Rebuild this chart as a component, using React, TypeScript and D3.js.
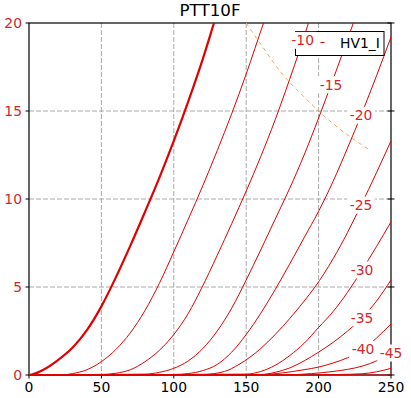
import React from "react";
import * as d3 from "d3";

// anode current (mA) vs anode voltage (V), one array per grid voltage
const ia_0 = [[0, 0], [3, 0.05], [10, 0.3], [20, 0.85], [30, 1.55], [40, 2.55], [50, 3.9], [60, 5.55], [70, 7.35], [80, 9.25], [90, 11.2], [100, 13.3], [110, 15.55], [120, 17.95], [127, 19.8], [130, 20.6]];
const ia_m5 = [[0, 0], [22, 0], [30, 0.08], [40, 0.3], [50, 0.76], [60, 1.45], [70, 2.4], [80, 3.65], [90, 5.2], [100, 7.0], [110, 8.85], [120, 10.75], [130, 12.75], [140, 14.85], [150, 17.1], [162, 20], [165, 20.7]];
const ia_m10 = [[0, 0], [50, 0.03], [60, 0.1], [70, 0.3], [80, 0.75], [90, 1.4], [100, 2.3], [110, 3.5], [119, 4.9], [130, 6.8], [140, 8.6], [150, 10.45], [160, 12.4], [170, 14.5], [180, 16.8], [193, 20], [196, 20.8]];
const ia_m15 = [[0, 0], [80, 0.05], [90, 0.15], [100, 0.38], [110, 0.8], [120, 1.5], [130, 2.5], [140, 3.8], [150, 5.4], [160, 7.1], [170, 8.85], [180, 10.6], [190, 12.5], [200, 14.6], [210, 16.8], [224, 20], [227, 20.7]];
const ia_m20 = [[0, 0], [100, 0.03], [110, 0.08], [120, 0.25], [130, 0.6], [140, 1.3], [150, 2.3], [160, 3.5], [170, 4.85], [180, 6.3], [190, 7.8], [200, 9.3], [210, 11.0], [220, 12.9], [230, 14.9], [240, 17.0], [250, 19.2]];
const ia_m25 = [[0, 0], [120, 0.03], [135, 0.2], [145, 0.6], [160, 1.5], [170, 2.3], [180, 3.2], [190, 4.2], [197.5, 5.0], [210, 6.6], [220, 8.1], [229, 9.6], [240, 11.5], [250, 13.3]];
const ia_m30 = [[0, 0], [150, 0.05], [160, 0.2], [170, 0.55], [180, 1.1], [190, 1.8], [200, 2.7], [210, 3.6], [220, 4.7], [229.5, 5.9], [240, 7.3], [250, 8.7]];
const ia_m35 = [[0, 0], [160, 0.03], [170, 0.15], [180, 0.4], [190, 0.8], [200, 1.3], [210, 1.85], [220, 2.5], [230, 3.25], [240, 4.2], [250, 5.4]];
const ia_m40 = [[0, 0], [160, 0.02], [175, 0.12], [190, 0.3], [200, 0.45], [210, 0.68], [220, 0.98], [230, 1.4], [240, 2.1], [250, 2.9]];
const ia_m45 = [[0, 0], [175, 0], [195, 0.08], [210, 0.2], [220, 0.32], [230, 0.5], [240, 0.8], [250, 1.25]];
const ia_m50 = [[0, 0], [195, 0], [215, 0.03], [230, 0.07], [240, 0.18], [250, 0.38]];
const ia_m55 = [[0, 0], [250, 0]];

const curves = [ia_0, ia_m5, ia_m10, ia_m15, ia_m20, ia_m25, ia_m30, ia_m35, ia_m40, ia_m45, ia_m50, ia_m55];
const gridVolts = ["0", "-5", "-10", "-15", "-20", "-25", "-30", "-35", "-40", "-45", "-50", "-55"];
// x position (V) of the inline label, null = no label shown
const labelAt = [null, null, 189, 208.6, 229.3, 229.3, 230, 230, 230.7, 250, null, null];

// max anode dissipation limit
const pmax = [[150, 20], [160, 18.8], [175, 17.1], [190, 15.8], [200, 15.0], [215, 13.95], [235, 12.8]];

const xTicks = [0, 50, 100, 150, 200, 250];
const yTicks = [0, 5, 10, 15, 20];

const W = 411, H = 398;
const L = 29, R = 391, T = 23, B = 375;
const FONT = "DejaVu Sans, sans-serif";
const RED = "#e00000";
const TXT_RED = "#d62728";

function interp(pts: number[][], xv: number) {
  for (let i = 1; i < pts.length; i++) {
    if (pts[i][0] >= xv) {
      const [x0, y0] = pts[i - 1], [x1, y1] = pts[i];
      return y0 + ((y1 - y0) * (xv - x0)) / (x1 - x0 || 1);
    }
  }
  return pts[pts.length - 1][1];
}

export default function App() {
  const x = d3.scaleLinear().domain([0, 250]).range([L, R]);
  const y = d3.scaleLinear().domain([0, 20]).range([B, T]);
  const line = d3.line<number[]>().x(d => x(d[0])).y(d => y(d[1])).curve(d3.curveMonotoneX);

  return (
    <svg width={W} height={H} style={{ position: "absolute", left: 0, top: 0, background: "#fff" }} fontFamily={FONT}>
      <defs>
        <clipPath id="plot">
          <rect x={L} y={T} width={R - L} height={B - T + 1} />
        </clipPath>
      </defs>
      <rect x={0} y={0} width={W} height={H} fill="#fff" />

      {/* grid */}
      {xTicks.filter(t => t > 0 && t < 250).map(t => (
        <line key={"gx" + t} x1={x(t)} x2={x(t)} y1={T} y2={B} stroke="#a0a0a0" strokeWidth={0.9} strokeDasharray="5,2" />
      ))}
      {yTicks.filter(t => t > 0 && t < 20).map(t => (
        <line key={"gy" + t} x1={L} x2={R} y1={y(t)} y2={y(t)} stroke="#a0a0a0" strokeWidth={0.9} strokeDasharray="5,2" />
      ))}

      {/* spines */}
      <rect x={L} y={T} width={R - L} height={B - T} fill="none" stroke="#000" strokeWidth={1.2} />

      {/* ticks */}
      {yTicks.map(t => (
        <g key={"ty" + t}>
          <line x1={L - 3.5} x2={L} y1={y(t)} y2={y(t)} stroke="#000" />
          <line x1={R - 3.5} x2={R + 3.5} y1={y(t)} y2={y(t)} stroke="#000" />
          <text x={L - 7} y={y(t)} textAnchor="end" dominantBaseline="central" fontSize={13.9} fill={TXT_RED}>{t}</text>
        </g>
      ))}
      {xTicks.map(t => (
        <g key={"tx" + t}>
          <line x1={x(t)} x2={x(t)} y1={B} y2={B + 3.5} stroke="#000" />
          <text x={x(t)} y={392} textAnchor="middle" fontSize={13.9} fill="#000">{t}</text>
        </g>
      ))}

      {/* curves */}
      <g clipPath="url(#plot)">
        {curves.map((c, i) => (
          <path key={gridVolts[i]} d={line(c) || ""} fill="none" stroke={RED} strokeWidth={i === 0 ? 2.2 : 1} />
        ))}
        <path d={line(pmax) || ""} fill="none" stroke="#f2a85c" strokeWidth={1} strokeDasharray="4,3.5" />
      </g>

      {/* legend */}
      <rect x={295.5} y={31.5} width={88.5} height={24} fill="#fff" stroke="#000" strokeWidth={1} />
      <line x1={320.5} x2={324.5} y1={42.5} y2={42.5} stroke={RED} strokeWidth={1} />
      <text x={340} y={48} fontSize={13.9} fill="#000">HV1_I</text>

      {/* inline curve labels */}
      {curves.map((c, i) => {
        const lx = labelAt[i];
        if (lx == null) return null;
        const px = x(lx), py = y(interp(c, lx));
        const tw = gridVolts[i].length * 8.2 - 2;
        return (
          <g key={"lb" + i}>
            <rect x={px - tw / 2 - 2.5} y={py - 8.5} width={tw + 5} height={17} fill="#fff" />
            <text x={px} y={py} textAnchor="middle" dominantBaseline="central" fontSize={13.9} fill={TXT_RED}>{gridVolts[i]}</text>
          </g>
        );
      })}

      {/* title */}
      <text x={(L + R) / 2} y={16} textAnchor="middle" fontSize={16.7} fill="#000">PTT10F</text>
    </svg>
  );
}
